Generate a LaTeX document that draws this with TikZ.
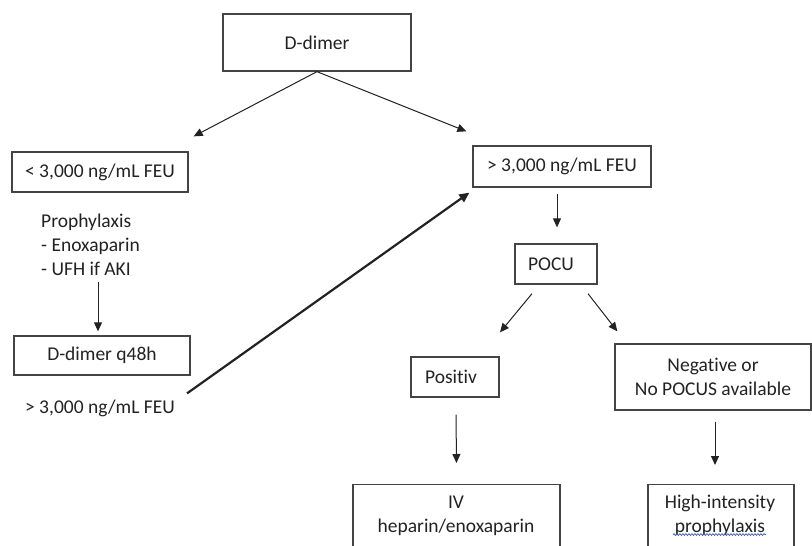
\documentclass[tikz,border=0pt]{standalone}
\usepackage{fontspec}
\setmainfont{Carlito}[Ligatures=NoCommon]
\usetikzlibrary{arrows.meta,calc,decorations.pathmorphing}
\definecolor{ink}{HTML}{222222}
\definecolor{boxline}{HTML}{444444}
\definecolor{spell}{HTML}{3A5BC8}
\tikzset{
  x=1pt, y=-1pt,
  every node/.style={font=\fontsize{19.5}{24}\selectfont, text=ink, inner sep=0pt},
  flowbox/.style={draw=boxline, line width=1.3pt, rectangle, align=center},
  plain/.style={align=left},
  conn/.style={draw=ink, line width=1pt, -{Triangle[length=9pt,width=8pt]}},
  thickconn/.style={draw=ink, line width=2.2pt, -{Triangle[length=10pt,width=9pt]}},
}
\begin{document}
\begin{tikzpicture}
\useasboundingbox (0,0) rectangle (812,546);
\clip (0,0) rectangle (812,546);
% boxes
\node[flowbox, minimum width=188pt, minimum height=57pt] (dd) at (317,42.5) {D-dimer};
\node[flowbox, minimum width=176pt, minimum height=40pt] (lo) at (100,172) {< 3,000 ng/mL FEU};
\node[flowbox, minimum width=178pt, minimum height=41pt] (hi) at (562,166.5) {> 3,000 ng/mL FEU};
\node[plain, anchor=west] (proph) at (41,245) {Prophylaxis\\- Enoxaparin\\- UFH if AKI};
\node[flowbox, minimum width=176pt, minimum height=39pt] (q48) at (102,355.5) {D-dimer q48h};
\node (lbl) at (100,408) {> 3,000 ng/mL FEU};
\node[flowbox, minimum width=82pt, minimum height=40pt] (pocu) at (556,264) {\hspace*{-10pt}POCU};
\node[flowbox, minimum width=88pt, minimum height=40pt] (pos) at (455,377) {\hspace*{-8pt}Positiv};
\node[flowbox, minimum width=196pt, minimum height=66pt] (neg) at (713,377) {Negative or\\No POCUS available};
\node[flowbox, minimum width=207pt, minimum height=90pt, anchor=north] (iv) at (456.5,484) {};
\node[anchor=center, align=center] (ivt) at (456,515.5) {IV\\heparin/enoxaparin};
\node[flowbox, minimum width=146pt, minimum height=90pt, anchor=north] (hip) at (721,484) {};
\node[anchor=center, align=center] (hipt) at (720,515) {High-intensity\\prophylaxis};
% spell-check underline
\draw[spell, line width=0.7pt, decorate, decoration={snake, amplitude=0.9pt, segment length=3pt}]
  ($(hipt.south)+(-47,-1)$) -- ($(hipt.south)+(46,-1)$);
% connectors
\draw[conn] (dd.south) -- ($(lo.north east)+(5,-15)$);
\draw[conn] (dd.south) -- ($(hi.north west)+(-6,-14)$);
\draw[conn] ($(q48.north)+(-4,-53)$) -- ($(q48.north)+(-4,-4)$);
\draw[thickconn] ($(lbl.north east)+(12,-6)$) -- ($(hi.south west)+(-3,5)$);
\draw[conn] ($(hi.south)+(-5,6)$) -- ($(pocu.north)+(1,-16)$);
\draw[conn] ($(pocu.south)+(-24,9)$) -- ($(pos.north)+(45,-24)$);
\draw[conn] ($(pocu.south)+(32,9)$) -- ($(neg.north west)+(3,-12)$);
\draw[conn] ($(pos.south)+(1,17)$) -- ($(iv.north)+(0,-21)$);
\draw[conn] ($(neg.south)+(2,11)$) -- ($(hip.north)+(-6,-19)$);
\end{tikzpicture}
\end{document}
